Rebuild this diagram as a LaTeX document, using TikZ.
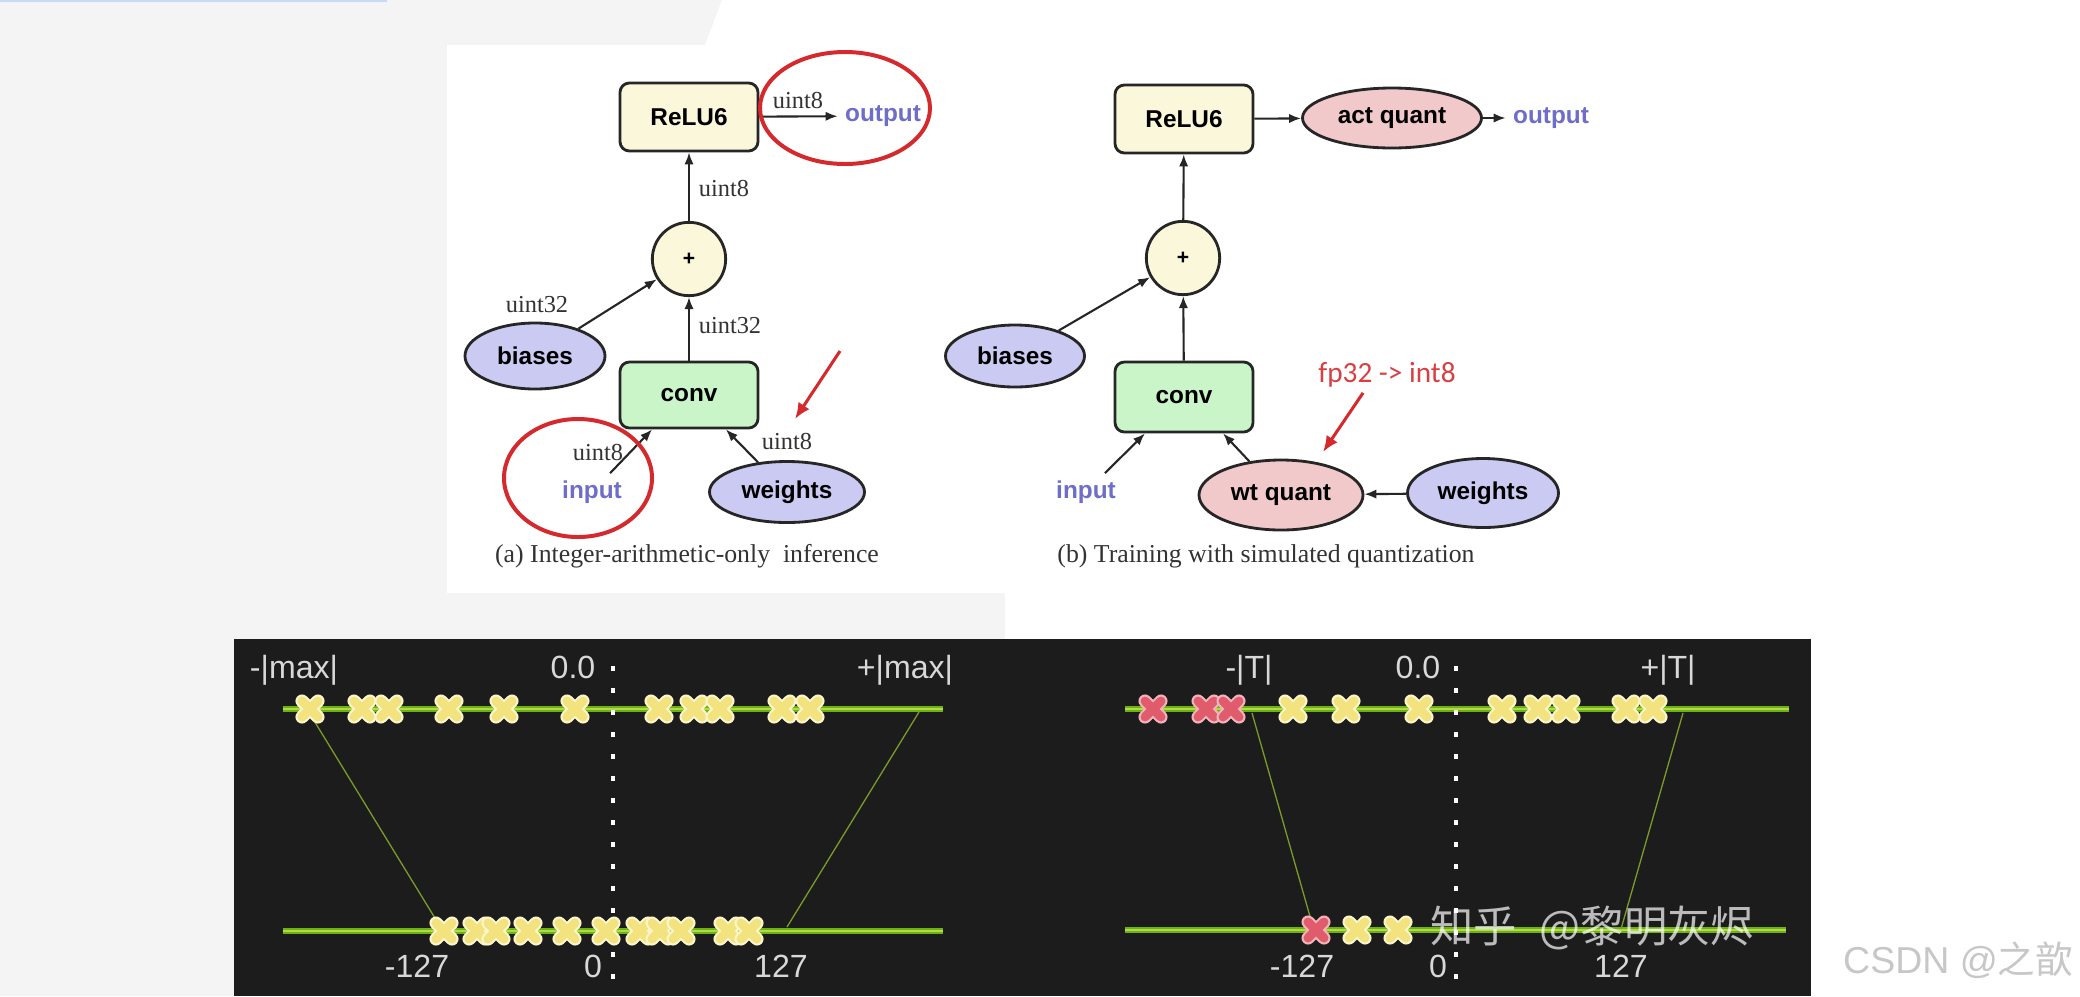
\documentclass[tikz,border=0pt]{standalone}
\usepackage{fontspec}
\setmainfont{Liberation Serif}
\setsansfont{Liberation Sans}
\newfontfamily\calfont{Carlito}
\newfontfamily\cjkfont{Noto Sans CJK SC}
\usetikzlibrary{arrows.meta,shapes.geometric}

\definecolor{pagegray}{HTML}{F4F4F4}
\definecolor{topblue}{HTML}{C6DCF6}
\definecolor{reluyel}{HTML}{FBF7DA}
\definecolor{convgrn}{HTML}{C9F5C9}
\definecolor{datablu}{HTML}{CACAF2}
\definecolor{quantpnk}{HTML}{F2C9CA}
\definecolor{iotext}{HTML}{6E6EC8}
\definecolor{ringred}{HTML}{D42A2E}
\definecolor{panelblk}{HTML}{1C1C1C}
\definecolor{axisgrn}{HTML}{6FB012}
\definecolor{axislite}{HTML}{AEDC48}
\definecolor{mapgrn}{HTML}{7C9C2A}
\definecolor{xfill}{HTML}{F2E37E}
\definecolor{xedge}{HTML}{FBF5CC}
\definecolor{xredfill}{HTML}{E05C6C}
\definecolor{xrededge}{HTML}{F2B4BA}
\definecolor{paneltext}{HTML}{D8D8D8}

\newcommand\ndfont{\sffamily\bfseries\fontsize{10.4}{12}\selectfont}
\newcommand\tyfont{\rmfamily\fontsize{10.4}{12}\selectfont}
\newcommand\pnfont{\sffamily\fontsize{13.7}{16}\selectfont}

\begin{document}
\begin{tikzpicture}[x=0.015cm,y=-0.015cm,
  opbox/.style={draw=black!85,line width=1.2pt,rounded corners=4pt,fill=reluyel,font=\ndfont,minimum width=2.07cm,minimum height=1.02cm},
  convbox/.style={opbox,fill=convgrn,minimum height=1.02cm},
  addnode/.style={circle,draw=black!85,line width=1.2pt,fill=reluyel,minimum size=1.1cm,inner sep=0pt,font=\sffamily\bfseries\fontsize{9}{10}\selectfont},
  dataell/.style={ellipse,draw=black!85,line width=1.2pt,fill=datablu,font=\ndfont,inner sep=0pt},
  quantell/.style={dataell,fill=quantpnk},
  iotxt/.style={font=\ndfont,text=iotext,inner sep=3pt},
  tylab/.style={font=\tyfont,text=black!80,inner sep=0pt},
  captxt/.style={font=\rmfamily\fontsize{11}{13}\selectfont,text=black!80,inner sep=0pt},
  redtxt/.style={font=\calfont\fontsize{12.5}{14}\selectfont,text=ringred!90,inner sep=0pt},
  arr/.style={-{Latex[length=1.8mm,width=1.4mm]},line width=0.9pt,black!85},
  redarr/.style={-{Latex[length=2.4mm,width=2mm]},line width=1.3pt,ringred},
  redring/.style={draw=ringred,line width=1.7pt},
  axis/.style={draw=axisgrn,double=axislite,double distance=0.8pt,line width=0.9pt},
  mapline/.style={draw=mapgrn,line width=0.55pt},
  dotline/.style={draw=white,line width=2.1pt,dash pattern=on 2.1pt off 7.3pt},
  pntxt/.style={font=\pnfont,text=paneltext,inner sep=0pt},
  yelx/.pic={\draw[xedge,line width=5.6pt,line cap=round] (-8,-8) -- (8,8) (-8,8) -- (8,-8);
             \draw[xfill,line width=3.8pt,line cap=round] (-8,-8) -- (8,8) (-8,8) -- (8,-8);},
  redx/.pic={\draw[xrededge,line width=5.6pt,line cap=round] (-8,-8) -- (8,8) (-8,8) -- (8,-8);
             \draw[xredfill,line width=3.8pt,line cap=round] (-8,-8) -- (8,8) (-8,8) -- (8,-8);}
]
\useasboundingbox (0,0) rectangle (2080,996);
\fill[pagegray] (0,0) rectangle (2080,996);
\fill[white] (447,45) -- (705,45) -- (722,0) -- (2080,0) -- (2080,996) -- (1811,996) -- (1811,639)
  -- (1005,639) -- (1005,593) -- (447,593) -- cycle;
\fill[topblue] (0,0) rectangle (387,2);

% (a) integer-only inference
\node[opbox] (reluA) at (689,117) {ReLU6};
\node[addnode] (plusA) at (689,259) {+};
\node[convbox,minimum height=0.99cm] (convA) at (689,395) {conv};
\node[dataell,minimum width=2.1cm,minimum height=0.99cm] (biasA) at (535,356) {biases};
\node[dataell,minimum width=2.325cm,minimum height=0.915cm] (wA) at (787,492) {weights};
\node[iotxt] (inA) at (592,492) {input};
\node[iotxt] (outA) at (883,116) {output};
\node[tylab] (t1A) at (798,101) {uint8};
\node[tylab] (t2A) at (724,189) {uint8};
\node[tylab] (t3A) at (537,305) {uint32};
\node[tylab] (t4A) at (730,326) {uint32};
\node[tylab] (t5A) at (598,453) {uint8};
\node[tylab] (t6A) at (787,442) {uint8};
\draw[arr] (reluA) -- (outA);
\draw[arr] (plusA) -- (reluA);
\draw[arr] (convA) -- (plusA);
\draw[arr] (biasA) -- (plusA);
\draw[arr] (inA) -- (convA.223);
\draw[arr] (wA) -- (convA.-43);
\draw[redring] (845,108) ellipse [x radius=1.275cm,y radius=0.84cm];
\draw[redring] (578,478) ellipse [x radius=1.11cm,y radius=0.885cm];
\coordinate (tipA0) at (840,351);
\coordinate (tipA1) at (795,419);
\draw[redarr] (tipA0) -- (tipA1);
\node[captxt] (capA) at (687,556) {(a) Integer-arithmetic-only\ \ inference};

% (b) training with simulated quantization
\node[opbox] (reluB) at (1184,119) {ReLU6};
\node[addnode] (plusB) at (1183,258) {+};
\node[convbox,minimum height=1.05cm] (convB) at (1184,397) {conv};
\node[dataell,minimum width=2.085cm,minimum height=0.93cm] (biasB) at (1015,356) {biases};
\node[quantell,minimum width=2.685cm,minimum height=0.9cm] (aqB) at (1392,118) {act quant};
\node[quantell,minimum width=2.46cm,minimum height=1.05cm] (wqB) at (1281,495) {wt quant};
\node[dataell,minimum width=2.265cm,minimum height=1.035cm] (wB) at (1483,493) {weights};
\node[iotxt] (inB) at (1086,492) {input};
\node[iotxt] (outB) at (1551,118) {output};
\node[redtxt] (fpB) at (1387,375) {fp32 -> int8};
\draw[arr] (reluB) -- (aqB);
\draw[arr] (aqB) -- (outB);
\draw[arr] (plusB) -- (reluB);
\draw[arr] (convB) -- (plusB);
\draw[arr] (biasB) -- (plusB);
\draw[arr] (inB) -- (convB.223);
\draw[arr] (wqB) -- (convB.-43);
\draw[arr] (wB) -- (wqB);
\coordinate (tipB1) at (1323,452);
\draw[redarr] ([shift={(-24,5)}]fpB.south) -- (tipB1);
\node[captxt] (capB) at (1266,556) {(b) Training with simulated quantization};

% symmetric ranges
\fill[panelblk] (234,639) rectangle (1811,996);
\draw[axis] (283,709) -- (943,709);
\draw[axis] (283,931) -- (943,931);
\draw[axis] (1125,709) -- (1789,709);
\draw[axis] (1125,930) -- (1786,930);
\draw[dotline] (613,666) -- (613,984);
\draw[dotline] (1456,666) -- (1456,984);
\draw[mapline] (313,719) -- (438,923);
\draw[mapline] (919,712) -- (787,927);
\draw[mapline] (1252,713) -- (1313,927);
\draw[mapline] (1683,713) -- (1621,929);
\foreach \p in {310,362,389,449,504,575,659,694,720,782,810} \pic at (\p,709) {yelx};
\foreach \p in {444,477,496,528,567,606,640,660,681,728,749} \pic at (\p,931) {yelx};
\foreach \p in {1153,1206,1231} \pic at (\p,709) {redx};
\foreach \p in {1293,1346,1419,1502,1538,1566,1626,1653} \pic at (\p,709) {yelx};
\pic at (1316,930) {redx};
\foreach \p in {1357,1398} \pic at (\p,930) {yelx};
\node[pntxt] (lmaxL) at (294,670) {-|max|};
\node[pntxt] (zeroL) at (573,667) {0.0};
\node[pntxt] (rmaxL) at (905,670) {+|max|};
\node[pntxt] (lowL) at (417,966) {-127};
\node[pntxt] (midL) at (593,966) {0};
\node[pntxt] (highL) at (781,966) {127};
\node[pntxt] (lmaxR) at (1249,670) {-|T|};
\node[pntxt] (zeroR) at (1418,667) {0.0};
\node[pntxt] (rmaxR) at (1668,670) {+|T|};
\node[pntxt] (lowR) at (1302,966) {-127};
\node[pntxt] (midR) at (1438,966) {0};
\node[pntxt] (highR) at (1621,966) {127};
\node[font=\cjkfont\fontsize{18.5}{20}\selectfont,text=white,text opacity=0.7,anchor=west,inner sep=0pt] (zhihu) at (1430,928) {知乎\hspace{0.3em} @黎明灰烬};
\node[font=\sffamily\fontsize{16}{18}\selectfont,text=black!22,inner sep=0pt] (csdn) at (1958,960) {CSDN @{\cjkfont 之歆}};
\end{tikzpicture}
\end{document}
